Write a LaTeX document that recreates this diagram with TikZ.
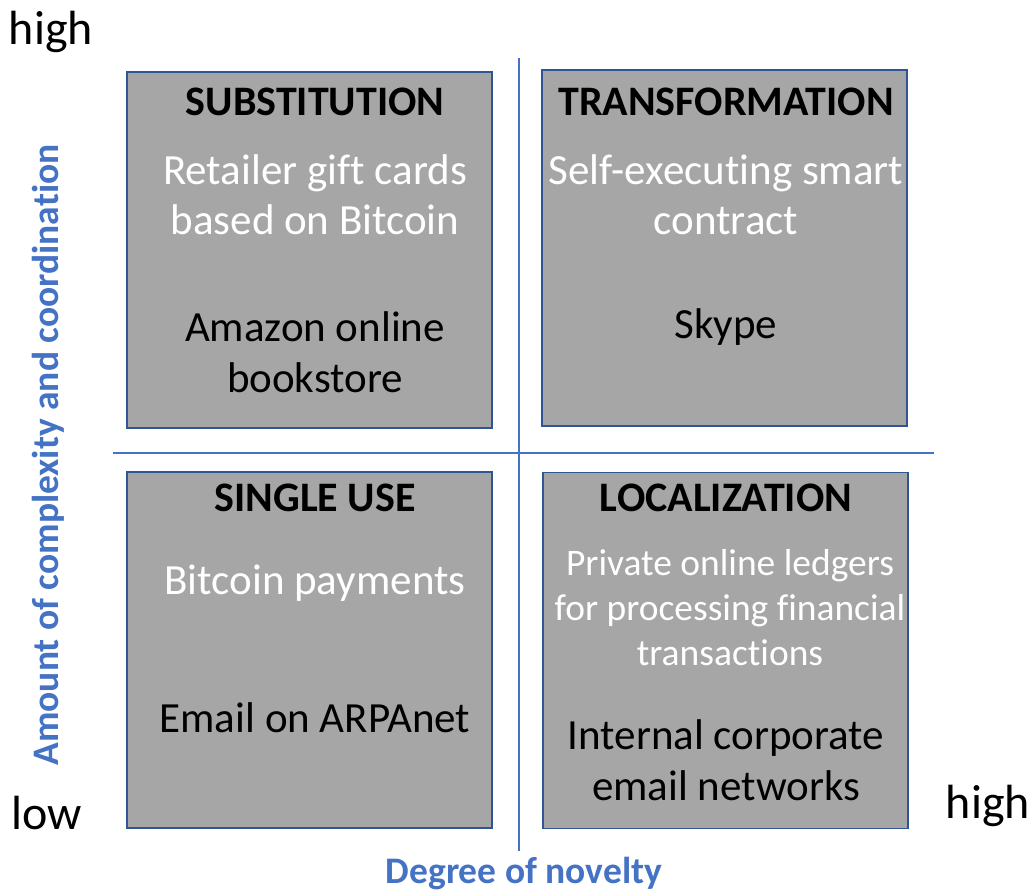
\documentclass[tikz,border=0pt]{standalone}
\usepackage{fontspec}
\setmainfont[Ligatures={NoCommon}]{Carlito}
\definecolor{boxgray}{HTML}{A6A6A6}
\definecolor{boxedge}{HTML}{2F5597}
\definecolor{axisblue}{HTML}{4472C4}
\tikzset{
  quad/.style={draw=boxedge, line width=1.6pt, fill=boxgray, minimum width=365pt, minimum height=356pt, inner sep=0pt},
  ttl/.style={font=\fontsize{42}{48}\selectfont\bfseries, text=black},
  wtxt/.style={font=\fontsize{43}{50}\selectfont, text=white, align=center},
  btxt/.style={font=\fontsize{43}{51}\selectfont, text=black, align=center},
  stxt/.style={font=\fontsize{37.5}{45}\selectfont, text=white, align=center},
  lvl/.style={font=\fontsize{48}{54}\selectfont, text=black},
  axlab/.style={font=\fontsize{37.5}{42}\selectfont\bfseries, text=axisblue},
  axline/.style={draw=axisblue, line width=2pt}
}
\begin{document}
\begin{tikzpicture}[x=1pt,y=-1pt]
\useasboundingbox (0,0) rectangle (1033,893);
% axis lines
\coordinate (vtop) at (519,58);
\coordinate (vbot) at (519,851);
\coordinate (hl) at (113,453);
\coordinate (hr) at (934,453);
\draw[axline] (vtop) -- (vbot);
\draw[axline] (hl) -- (hr);
% boxes
\node[quad] (sub) at (309.5,250) {};
\node[quad] (tra) at (724.5,248) {};
\node[quad] (sin) at (309.5,650) {};
\node[quad] (loc) at (725.5,650.5) {};
% titles
\node[ttl] (subt) at (315,102) {SUBSTITUTION};
\node[ttl] (trat) at (726,102) {TRANSFORMATION};
\node[ttl] (sint) at (315,498) {SINGLE USE};
\node[ttl] (loct) at (726,498) {LOCALIZATION};
% contents
\node[wtxt] (sub1) at (315,195) {Retailer gift cards\\based on Bitcoin};
\node[btxt] (sub2) at (315,352) {Amazon online\\bookstore};
\node[wtxt] (tra1) at (726,195) {Self-executing smart\\contract};
\node[btxt] (tra2) at (726,327) {Skype};
\node[wtxt] (sin1) at (315,583) {Bitcoin payments};
\node[btxt] (sin2) at (315,718) {Email on ARPAnet};
\node[stxt] (loc1) at (730,608) {Private online ledgers\\for processing financial\\transactions};
\node[btxt] (loc2) at (726,760) {Internal corporate\\email networks};
% axis labels
\node[lvl] (hi1) at (51,32) {high};
\node[lvl] (lo) at (47,813) {low};
\node[lvl] (hi2) at (988,806) {high};
\node[axlab, rotate=90] (ylab) at (48,455) {Amount of complexity and coordination};
\node[axlab] (xlab) at (524,874) {Degree of novelty};
\end{tikzpicture}
\end{document}
